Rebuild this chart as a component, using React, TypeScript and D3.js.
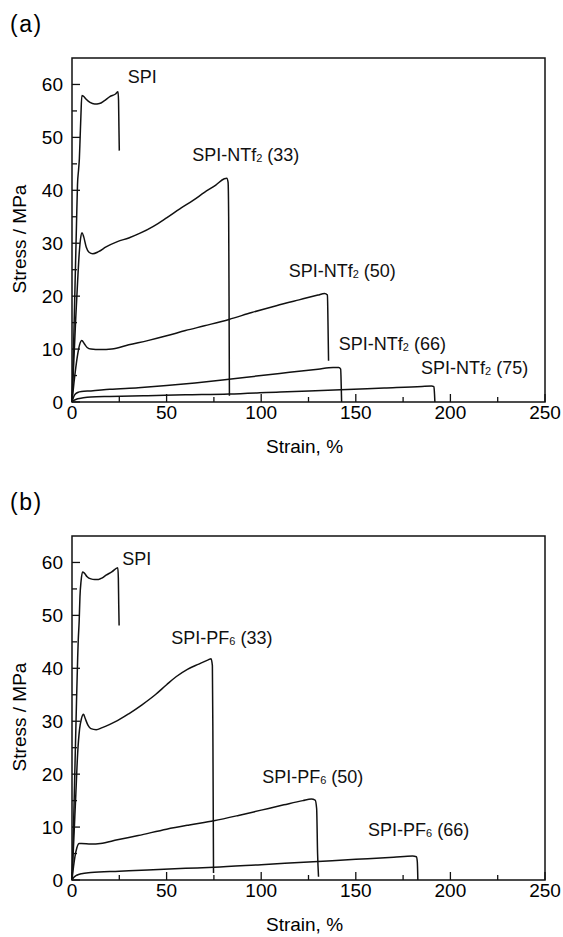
import React from 'react';
import * as d3 from 'd3';

// [strain %, stress MPa]
const spiA: [number, number][] = [[0,0],[0.8,10],[1.6,22],[2.4,34],[2.9,41],[3.5,44],[3.9,46],[4.3,50],[4.7,54],[5.2,57.9],[6,57.8],[7.5,57.2],[9.5,56.6],[12,56.3],[14.5,56.4],[17,56.9],[20,57.7],[23,58.2],[24.3,58.6],[24.6,57],[24.8,52],[25,47.5]];
const ntf33: [number, number][] = [[0,0],[1,8],[2,16],[3,23],[3.8,28],[4.5,30.8],[5.3,32],[6.2,31.2],[7.5,29.3],[9,28.3],[11,28],[14,28.4],[18,29.3],[24,30.3],[30,31],[36,31.9],[43,33.2],[50,34.8],[57,36.5],[64,38.1],[70,39.6],[76,41],[80.5,42.2],[81.8,42.3],[82.5,41.5],[82.8,35],[83,20],[83.2,1.2]];
const ntf50: [number, number][] = [[0,0],[1,3.5],[2,6.5],[3,9],[4,10.8],[5.2,11.6],[6.5,11],[8,10.3],[10,10],[15,9.9],[21,10],[30,10.8],[40,11.6],[50,12.5],[60,13.5],[70,14.4],[83,15.6],[95,16.9],[108,18.2],[120,19.3],[130,20.2],[133.5,20.5],[135,20.2],[135.3,15],[135.6,7.8]];
const ntf66: [number, number][] = [[0,0],[0.7,0.8],[1.5,1.4],[3,1.8],[5,2.0],[10,2.1],[20,2.4],[35,2.7],[50,3.1],[65,3.6],[83,4.3],[100,5.0],[115,5.6],[130,6.2],[138,6.5],[141,6.5],[142,6.2],[142.3,3],[142.5,0]];
const ntf75: [number, number][] = [[0,0],[1,0.3],[3,0.6],[6,0.8],[10,0.95],[20,1.05],[40,1.2],[60,1.35],[83,1.5],[110,1.9],[142,2.3],[165,2.65],[185,2.95],[190,3.0],[191.3,2.9],[191.6,1.5],[191.8,0]];

const spiB: [number, number][] = [[0,0],[0.8,10],[1.6,22],[2.4,34],[3,42],[3.3,45.3],[3.8,49],[4.2,53.5],[4.8,56.5],[5.6,58.2],[6.5,58],[8,57.3],[10,56.9],[12,56.8],[14,56.8],[16,57.1],[18,57.6],[21,58.2],[24.2,59],[24.5,57],[24.7,52],[24.9,48.1]];
const pf33: [number, number][] = [[0,0],[1,8],[2,16],[3,24],[4,28.5],[5,30.5],[6.1,31.3],[7,30.5],[8.5,29.2],[10,28.6],[12.8,28.4],[16,28.8],[20,29.4],[24,30.1],[30,31.4],[37,33.1],[44,35],[50,36.9],[55,38.4],[61,39.8],[67,40.8],[72,41.6],[73.5,41.8],[74.2,40.5],[74.5,25],[74.8,1.3]];
const pf50: [number, number][] = [[0,0],[0.8,2.5],[1.6,4.5],[2.5,6],[3.8,6.9],[5,6.9],[10,6.8],[15,6.9],[24,7.6],[35,8.4],[50,9.6],[62,10.4],[75,11.2],[88,12.2],[100,13.2],[112,14.2],[122,15],[126.5,15.3],[128.5,15.1],[129.3,13.5],[129.8,5],[130.3,0.6]];
const pf66: [number, number][] = [[0,0],[1,0.5],[2.5,0.9],[5,1.2],[10,1.4],[25,1.65],[40,1.9],[60,2.2],[75,2.4],[100,2.9],[125,3.4],[150,3.9],[170,4.3],[180,4.55],[182,4.4],[182.5,3.5],[182.8,0]];

const xTicks = [0, 50, 100, 150, 200, 250];
const xMinor = [25, 75, 125, 175, 225];
const yTicks = [0, 10, 20, 30, 40, 50, 60];
const yMinor = [5, 15, 25, 35, 45, 55];

// curve labels, anchored at (strain, stress)
type Lbl = { base: string; sub: string; rest: string; x: number; y: number };
const labelsA: Lbl[] = [
  { base: 'SPI', sub: '', rest: '', x: 29.5, y: 60.3 },
  { base: 'SPI-NTf', sub: '2', rest: ' (33)', x: 63.5, y: 45.5 },
  { base: 'SPI-NTf', sub: '2', rest: ' (50)', x: 114.5, y: 23.6 },
  { base: 'SPI-NTf', sub: '2', rest: ' (66)', x: 141, y: 9.8 },
  { base: 'SPI-NTf', sub: '2', rest: ' (75)', x: 184.5, y: 5.3 },
];
const labelsB: Lbl[] = [
  { base: 'SPI', sub: '', rest: '', x: 26.5, y: 59.6 },
  { base: 'SPI-PF', sub: '6', rest: ' (33)', x: 52.5, y: 44.5 },
  { base: 'SPI-PF', sub: '6', rest: ' (50)', x: 100.5, y: 18.3 },
  { base: 'SPI-PF', sub: '6', rest: ' (66)', x: 156.5, y: 8.4 },
];

const FONT = '"Liberation Sans", Arial, sans-serif';
const W = 563;
const H = 937;

function Panel({ top, tag, curves, labels }: { top: number; tag: string; curves: [number, number][][]; labels: Lbl[] }) {
  const left = 72, right = 545, y0 = top + 344, yTop = top;
  const x = d3.scaleLinear().domain([0, 250]).range([left, right]);
  const y = d3.scaleLinear().domain([0, 65]).range([y0, yTop]);
  const line = d3.line<[number, number]>()
    .x(d => x(d[0]))
    .y(d => y(d[1]))
    .curve(d3.curveMonotoneX);

  return (
    <g>
      <text x={10} y={top - 26} fontSize={23} fontFamily={FONT} letterSpacing={1.5}>{tag}</text>
      {curves.map((c, i) => (
        <path key={i} d={line(c) || ''} fill="none" stroke="#111" strokeWidth={1.5} strokeLinejoin="round" />
      ))}
      <rect x={left} y={yTop} width={right - left} height={y0 - yTop} fill="none" stroke="#111" strokeWidth={1.5} />
      {yTicks.map(t => (
        <g key={'y' + t}>
          <line x1={left} x2={left + 8} y1={y(t)} y2={y(t)} stroke="#111" strokeWidth={1.3} />
          <text x={left - 9} y={y(t)} dy="0.35em" textAnchor="end" fontSize={19} fontFamily={FONT}>{t}</text>
        </g>
      ))}
      {yMinor.map(t => (
        <line key={'ym' + t} x1={left} x2={left + 5} y1={y(t)} y2={y(t)} stroke="#111" strokeWidth={1.3} />
      ))}
      {xTicks.map(t => (
        <g key={'x' + t}>
          <line x1={x(t)} x2={x(t)} y1={y0} y2={y0 - 8} stroke="#111" strokeWidth={1.3} />
          <text x={x(t)} y={y0 + 17} textAnchor="middle" fontSize={19} fontFamily={FONT}>{t}</text>
        </g>
      ))}
      {xMinor.map(t => (
        <line key={'xm' + t} x1={x(t)} x2={x(t)} y1={y0} y2={y0 - 5} stroke="#111" strokeWidth={1.3} />
      ))}
      <text x={(left + right) / 2 - 4} y={y0 + 51} textAnchor="middle" fontSize={19} fontFamily={FONT}>Strain, %</text>
      <text transform={`translate(26, ${top + 181}) rotate(-90)`} textAnchor="middle" fontSize={19} fontFamily={FONT}>Stress / MPa</text>
      {labels.map((l, i) => (
        <text key={i} x={x(l.x)} y={y(l.y)} fontSize={18} fontFamily={FONT} fill="#111">
          {l.base}
          {l.sub && <tspan fontSize={11} dy={1}>{l.sub}</tspan>}
          {l.rest && <tspan dy={l.sub ? -1 : 0}>{l.rest}</tspan>}
        </text>
      ))}
    </g>
  );
}

export default function App() {
  return (
    <svg width={W} height={H} style={{ position: 'absolute', left: 0, top: 0, background: '#fff' }}>
      <rect width={W} height={H} fill="#fff" />
      <Panel top={58} tag="(a)" curves={[spiA, ntf33, ntf50, ntf66, ntf75]} labels={labelsA} />
      <Panel top={536} tag="(b)" curves={[spiB, pf33, pf50, pf66]} labels={labelsB} />
    </svg>
  );
}
